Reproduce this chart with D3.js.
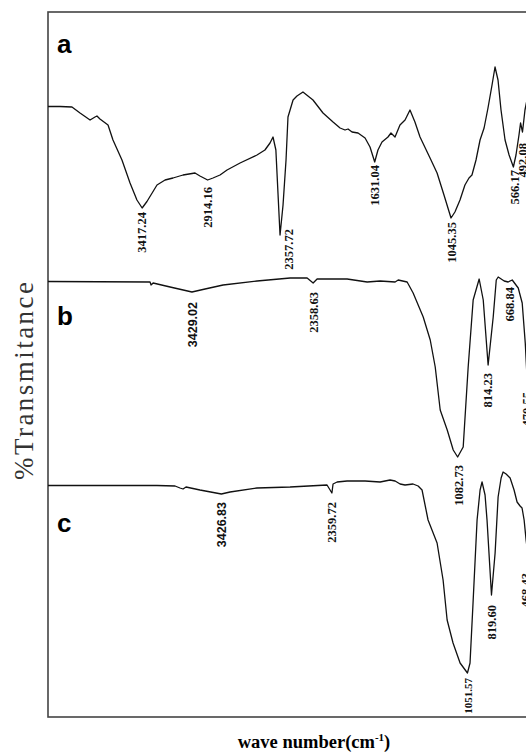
<!DOCTYPE html>
<html>
<head>
<meta charset="utf-8">
<script src="https://cdn.jsdelivr.net/npm/d3@7"></script>
<style>
  body { margin: 0; background: #fff; }
  svg { display: block; }
</style>
</head>
<body>
<div id="chart"></div>
<script>
// three FTIR spectra, stacked; each was scanned with its own wavenumber span
var domainA = [4140, 400], domainB = [4700, 400], domainC = [5100, 400];

// [wavenumber cm-1, %T (stacked, arbitrary offset)]
var specA = [[4140,122.1],[4048,122.1],[3956,122.0],[3894,120.8],[3817,119.4],[3779,120.0],[3764,120.2],
  [3741,119.6],[3679,118.4],[3641,115.4],[3572,111.4],[3510,106.8],[3457,103.4],[3417,101.8],[3380,103.1],
  [3303,106.4],[3241,107.4],[3180,107.8],[3103,108.4],[3011,108.8],[2973,108.2],[2914,107.4],[2873,107.8],
  [2819,108.4],[2765,109.4],[2665,110.8],[2535,112.4],[2474,113.4],[2435,114.8],[2412,116.0],[2390,113.4],
  [2358,96.4],[2335,102.4],[2312,111.4],[2297,120.0],[2258,123.4],[2228,124.2],[2182,125.0],[2105,123.4],
  [2028,120.8],[1951,119.0],[1897,117.8],[1859,117.4],[1836,117.6],[1805,117.0],[1759,116.8],[1705,115.8],
  [1667,114.0],[1631,111.0],[1606,113.4],[1575,115.0],[1529,116.0],[1506,116.8],[1475,116.0],[1437,118.4],
  [1398,119.4],[1360,121.4],[1322,119.0],[1283,116.0],[1206,111.8],[1152,108.8],[1099,104.4],[1045,99.8],
  [1015,101.0],[976,103.4],[938,106.4],[907,107.8],[884,108.4],[853,111.4],[822,115.4],[791,117.8],
  [761,121.8],[730,126.4],[707,130.0],[684,127.4],[661,121.4],[630,115.4],[599,112.4],[566,110.0],
  [546,112.4],[523,116.4],[511,118.8],[496,117.0],[477,121.4],[454,124.4],[400,126.4]];

var specB = [[4700,87.1],[3799,87.0],[3790,86.4],[3772,86.8],[3622,86.0],[3429,85.0],[3313,85.6],[3154,86.4],
  [2854,87.2],[2562,87.8],[2412,87.8],[2359,86.8],[2324,87.6],[2059,87.6],[1882,87.0],[1767,87.2],[1635,87.0],
  [1608,87.4],[1529,87.0],[1476,84.8],[1387,80.0],[1325,75.4],[1281,70.0],[1237,61.4],[1175,57.4],[1122,53.4],
  [1083,52.0],[1034,54.0],[990,70.0],[946,83.4],[893,87.6],[857,83.4],[814,70.4],[769,80.0],[742,87.4],
  [725,88.0],[672,87.2],[637,87.0],[601,87.4],[548,85.8],[513,82.8],[486,74.8],[460,63.4],[400,59.4]];

var specC = [[5100,46.3],[4048,46.3],[3874,46.2],[3826,45.8],[3797,45.6],[3768,46.0],[3633,45.4],[3427,44.6],
  [3343,45.0],[3083,45.8],[2764,46.0],[2407,46.4],[2360,44.8],[2349,46.6],[2310,47.0],[2214,47.2],[2040,47.2],
  [1895,47.0],[1799,47.4],[1750,47.2],[1702,46.6],[1654,46.4],[1577,46.6],[1528,46.2],[1490,45.4],[1432,39.4],
  [1345,34.8],[1287,27.4],[1248,19.4],[1191,14.8],[1123,10.8],[1052,8.8],[1027,10.8],[998,22.8],[959,39.4],
  [930,45.4],[911,47.0],[882,44.4],[863,39.4],[820,24.4],[785,32.8],[756,44.0],[727,47.8],[708,49.0],
  [679,48.6],[640,47.8],[602,45.4],[573,43.0],[544,42.2],[525,41.8],[505,39.4],[486,35.4],[447,29.4],[400,25.4]];

// peak labels: [text, wavenumber, level of label top (%T units)]
var peaksA = [["3417.24",3417.24,101.0],["2914.16",2914.16,106.0],["2357.72",2290,97.6],["1631.04",1631.04,110.4],
  ["1045.35",1037,99.0],["566.17",554,109.4],["492.08",492.08,114.8]];
var peaksB = [["3429.02",3420,83.0],["2358.63",2358.63,85.0],["1082.73",1078,50.4],["814.23",814.23,68.8],
  ["668.84",620,86.0],["470.55",474,65.0]];
var peaksC = [["3426.83",3420,43.0],["2359.72",2359.72,43.0],["1051.57",1046,7.8],["819.60",819.6,22.4],
  ["468.43",488,28.8]];

var panelLetters = ["a", "b", "c"];

var W = 526, H = 756;
var mLeft = 48, mRight = 535, mTop = 12, mBottom = 717;

var svg = d3.select("#chart").append("svg")
    .attr("width", W)
    .attr("height", H);

var y = d3.scaleLinear().domain([0, 141]).range([mBottom, mTop]);

var panels = [
  { spec: specA, dom: domainA, peaks: peaksA, letterY: 53, sansFirst: false },
  { spec: specB, dom: domainB, peaks: peaksB, letterY: 325, sansFirst: true },
  { spec: specC, dom: domainC, peaks: peaksC, letterY: 532, sansFirst: true }
];

svg.append("rect")
    .attr("x", mLeft).attr("y", mTop)
    .attr("width", mRight - mLeft).attr("height", mBottom - mTop)
    .attr("fill", "none")
    .attr("stroke", "#444")
    .attr("stroke-width", 1.6);

panels.forEach(function (p, i) {
  var x = d3.scaleLinear().domain(p.dom).range([mLeft, mRight]);

  var line = d3.line()
      .x(function (d) { return x(d[0]); })
      .y(function (d) { return y(d[1]); })
      .curve(d3.curveLinear);

  svg.append("path")
      .datum(p.spec)
      .attr("d", line)
      .attr("fill", "none")
      .attr("stroke", "#111")
      .attr("stroke-width", 1.3)
      .attr("stroke-linejoin", "round");

  svg.selectAll("text.pk" + i)
      .data(p.peaks)
    .enter().append("text")
      .attr("class", "pk" + i)
      .attr("transform", function (d) {
        return "translate(" + x(d[1]) + "," + y(d[2]) + ")rotate(-90)";
      })
      .attr("dy", "0.35em")
      .attr("text-anchor", "end")
      .style("font-family", function (d, j) {
        return (p.sansFirst && j === 0) ? "'Liberation Sans', Arial, sans-serif" : "'Liberation Serif', 'Times New Roman', serif";
      })
      .style("font-weight", "bold")
      .style("font-size", function (d) { return d[0] === "1051.57" ? "11px" : "12.5px"; })
      .style("fill", "#111")
      .text(function (d) { return d[0]; });

  svg.append("text")
      .attr("x", 57)
      .attr("y", p.letterY)
      .style("font-family", "'Liberation Sans', Arial, sans-serif")
      .style("font-weight", "bold")
      .style("font-size", "26px")
      .text(panelLetters[i]);
});

// axis titles
svg.append("text")
    .attr("transform", "translate(24,381)rotate(-90)")
    .attr("dy", "0.35em")
    .attr("text-anchor", "middle")
    .attr("textLength", 198)
    .attr("lengthAdjust", "spacing")
    .style("font-family", "'Liberation Serif', 'Times New Roman', serif")
    .style("font-size", "27px")
    .style("fill", "#333")
    .text("%Transmitance");

var xt = svg.append("text")
    .attr("x", 314)
    .attr("y", 748)
    .attr("text-anchor", "middle")
    .style("font-family", "'Liberation Serif', 'Times New Roman', serif")
    .style("font-weight", "bold")
    .style("font-size", "18.5px");
xt.append("tspan").text("wave number(cm");
xt.append("tspan").attr("dy", -7).style("font-size", "11px").text("-1");
xt.append("tspan").attr("dy", 7).text(")");
</script>
</body>
</html>
